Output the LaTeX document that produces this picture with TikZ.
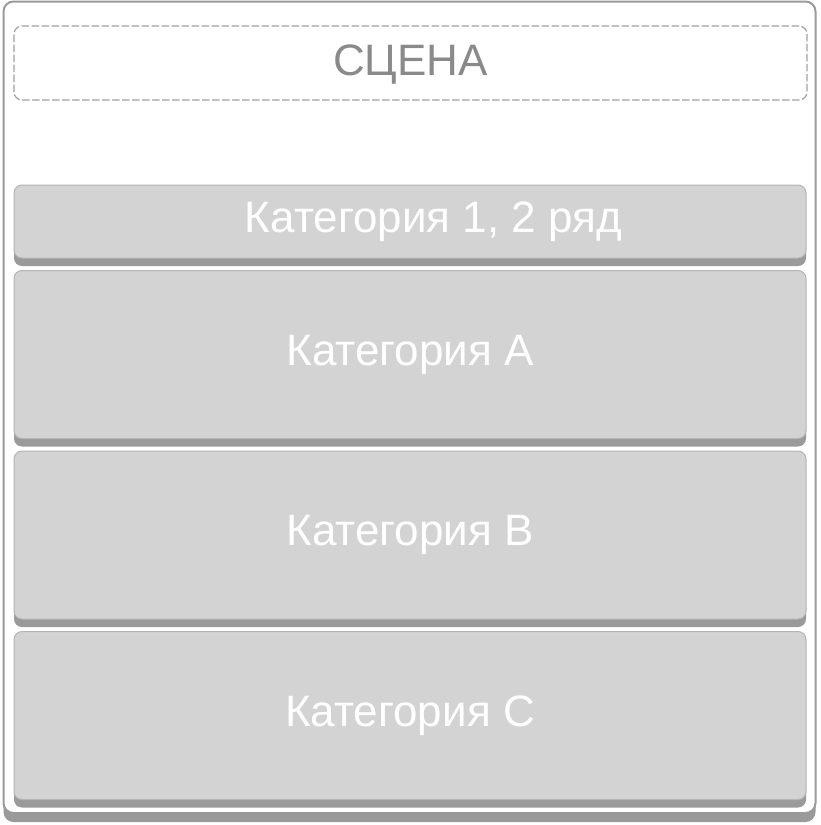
\documentclass[tikz,border=0pt]{standalone}
\usepackage{fontspec}
\setmainfont{Liberation Sans}
\usetikzlibrary{positioning,shadows}
\definecolor{boxgray}{HTML}{D3D3D3}
\definecolor{edgegray}{HTML}{B4B4B4}
\definecolor{shadowgray}{HTML}{9A9A9A}
\definecolor{dashgray}{HTML}{A2A2A2}
\definecolor{textgray}{HTML}{8A8A8A}
\begin{document}
\begin{tikzpicture}
[x=1pt,y=-1pt,
hall/.style={rectangle,rounded corners=10pt,draw=shadowgray,line width=2pt,fill=white,minimum width=812pt,minimum height=811.5pt,outer sep=0pt,drop shadow={shadow xshift=0pt,shadow yshift=-9pt,fill=shadowgray,opacity=1}},
scene/.style={rectangle,rounded corners=8pt,draw=dashgray,line width=1.2pt,dash pattern=on 7.5pt off 2.5pt,minimum width=793pt,minimum height=74pt,outer sep=0pt},
label/.style={text=white,font=\fontsize{44}{48}\selectfont},
zone/.style={rectangle,rounded corners=8pt,draw=edgegray,line width=1pt,fill=boxgray,minimum width=792pt,outer sep=0pt,label,drop shadow={shadow xshift=0pt,shadow yshift=-8pt,fill=shadowgray,opacity=1}},
row/.style={zone,minimum height=73pt},
block/.style={zone,minimum height=168pt},
node distance=12.5pt
]
\useasboundingbox (0,0) rectangle (820,825);
\node[hall] (frame) at (409.5,407.25) {};
\node[scene] (stage) at (410.5,63) {};
\node[label,text=textgray,yshift=-2pt] (stagetext) at (stage.center) {СЦЕНА};
\node[row] (cat1) at (410,221.5) {};
\node[label,xshift=23.5pt] (cat1text) at (cat1.center) {Категория 1, 2 ряд};
\node[block,below=of cat1] (catA) {Категория A};
\node[block,below=of catA] (catB) {Категория B};
\node[block,below=of catB] (catC) {Категория C};
\end{tikzpicture}
\end{document}
